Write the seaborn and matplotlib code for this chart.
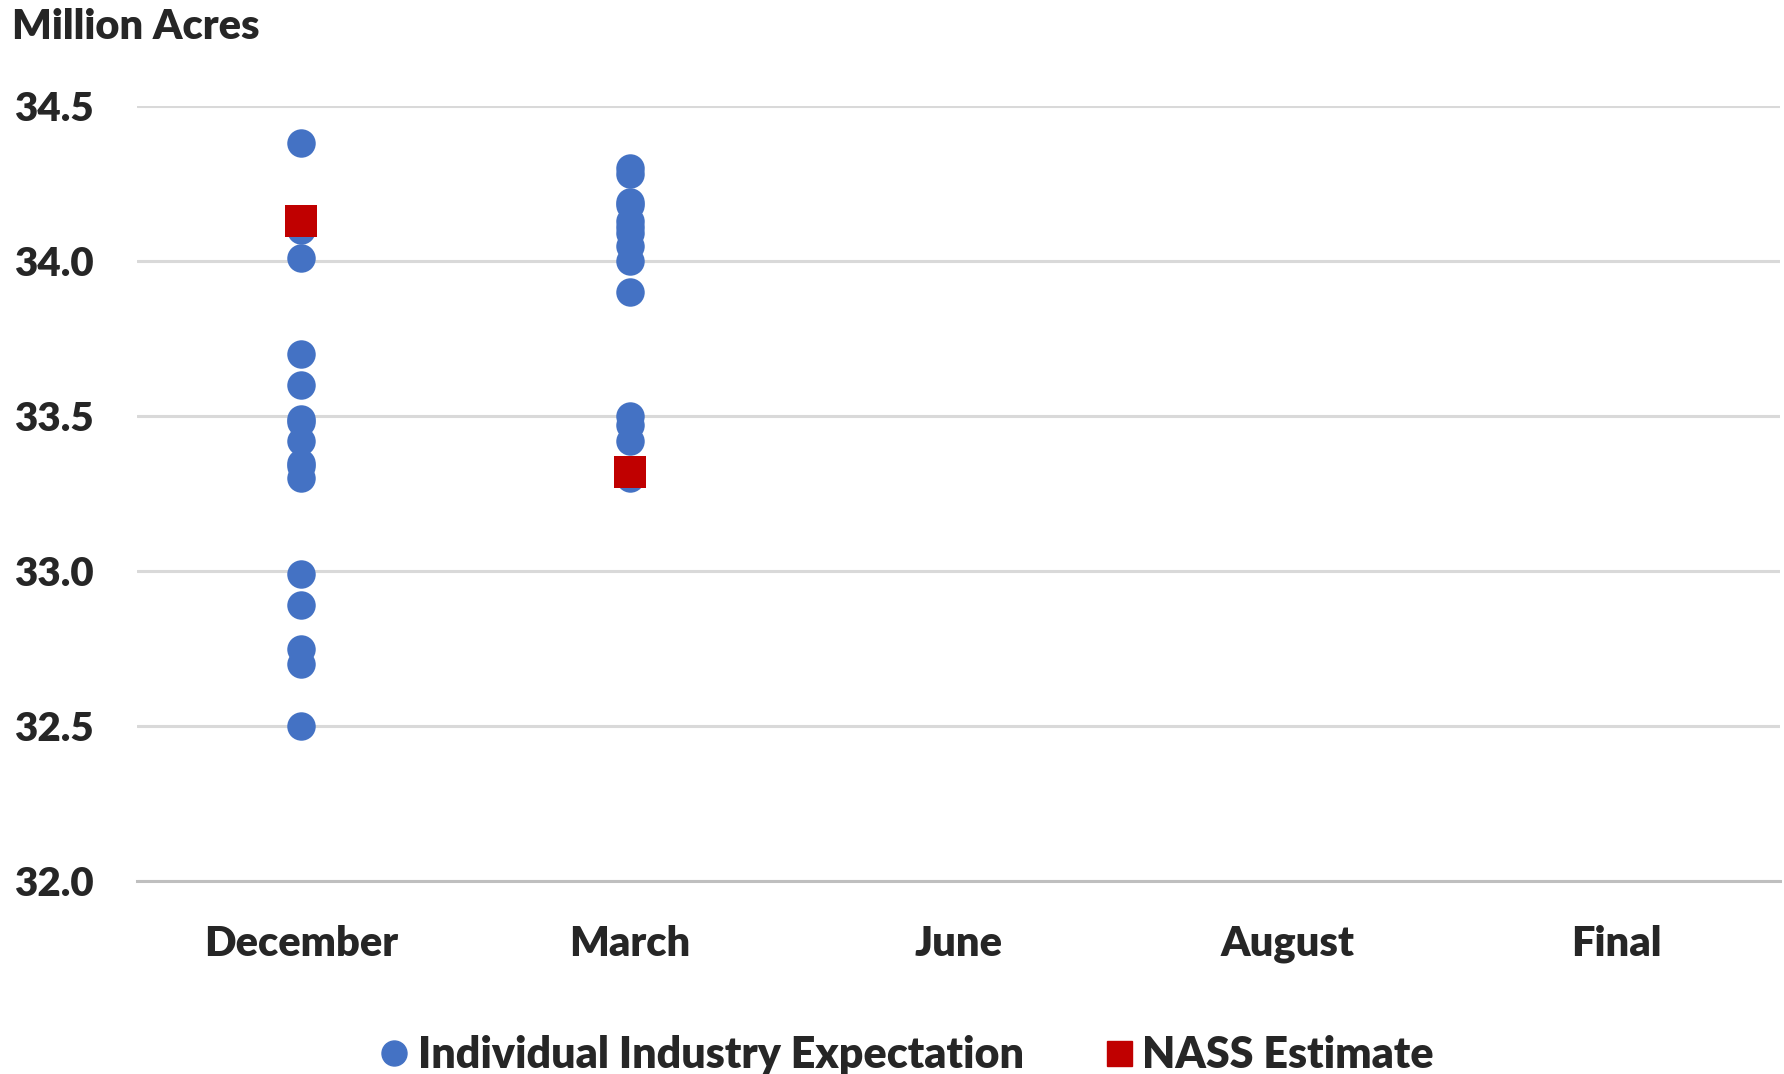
import matplotlib
matplotlib.use("Agg")
import matplotlib.pyplot as plt
import seaborn as sns
import pandas as pd
from matplotlib.lines import Line2D

categories = ["December", "March", "June", "August", "Final"]

dec_expect = [34.38, 34.10, 34.01, 33.70, 33.60, 33.49, 33.48, 33.42, 33.35, 33.34, 33.30,
              32.99, 32.89, 32.75, 32.70, 32.50]
mar_expect = [34.30, 34.28, 34.19, 34.18, 34.13, 34.11, 34.09, 34.05, 34.00, 33.90,
              33.50, 33.47, 33.42, 33.30]
nass_months = ["December", "March"]
nass_values = [34.13, 33.32]

yticks = [32.0, 32.5, 33.0, 33.5, 34.0, 34.5]

blue = "#4472C4"
red = "#C00000"

df_exp = pd.DataFrame({
    "month": ["December"] * len(dec_expect) + ["March"] * len(mar_expect),
    "value": dec_expect + mar_expect,
})
df_nass = pd.DataFrame({"month": nass_months, "value": nass_values})

sns.set_theme(style="white")
plt.rcParams["font.family"] = ["Lato", "DejaVu Sans"]

W = "heavy"
fig = plt.figure(figsize=(17.84, 10.74), dpi=100)
ax = fig.add_axes([0.0768, 0.1797, 0.9212, 0.7216])

sns.stripplot(data=df_exp, x="month", y="value", order=categories, jitter=False,
              color=blue, size=20.5, linewidth=0, ax=ax, zorder=3)
sns.stripplot(data=df_nass, x="month", y="value", order=categories, jitter=False,
              color=red, marker="s", size=23.5, linewidth=0, ax=ax, zorder=4)

ax.set_xlim(-0.5, 4.5)
ax.set_ylim(32.0, 34.5)
ax.set_yticks(yticks)
ax.set_yticklabels([f"{v:.1f}" for v in yticks], fontsize=29, fontweight=W)
ax.set_xticks(range(len(categories)))
ax.set_xticklabels(categories, fontsize=30, fontweight=W)
ax.tick_params(axis="y", length=0, pad=31)
ax.tick_params(axis="x", length=0, pad=32)
ax.set_xlabel("")
ax.set_ylabel("")
for s in ["top", "right", "left"]:
    ax.spines[s].set_visible(False)
ax.spines["bottom"].set_color("#BFBFBF")
ax.spines["bottom"].set_linewidth(2.2)
ax.set_axisbelow(True)
ax.yaxis.grid(True, color="#D9D9D9", linewidth=2.2)
ax.xaxis.grid(False)
for c in ax.collections:
    c.set_clip_on(False)

fig.text(0.007, 0.975, "Million Acres", fontsize=30, fontweight=W, va="center", ha="left")

handles = [
    Line2D([], [], marker="o", color=blue, linestyle="", markersize=18),
    Line2D([], [], marker="s", color=red, linestyle="", markersize=18),
]
fig.legend(handles, ["Individual Industry Expectation", "NASS Estimate"],
           loc="center", bbox_to_anchor=(0.507, 0.018), ncol=2, frameon=False,
           prop={"size": 31, "weight": W}, handletextpad=0.1, columnspacing=1.75,
           handlelength=0.9)

fig.savefig("out.png", dpi=100)
